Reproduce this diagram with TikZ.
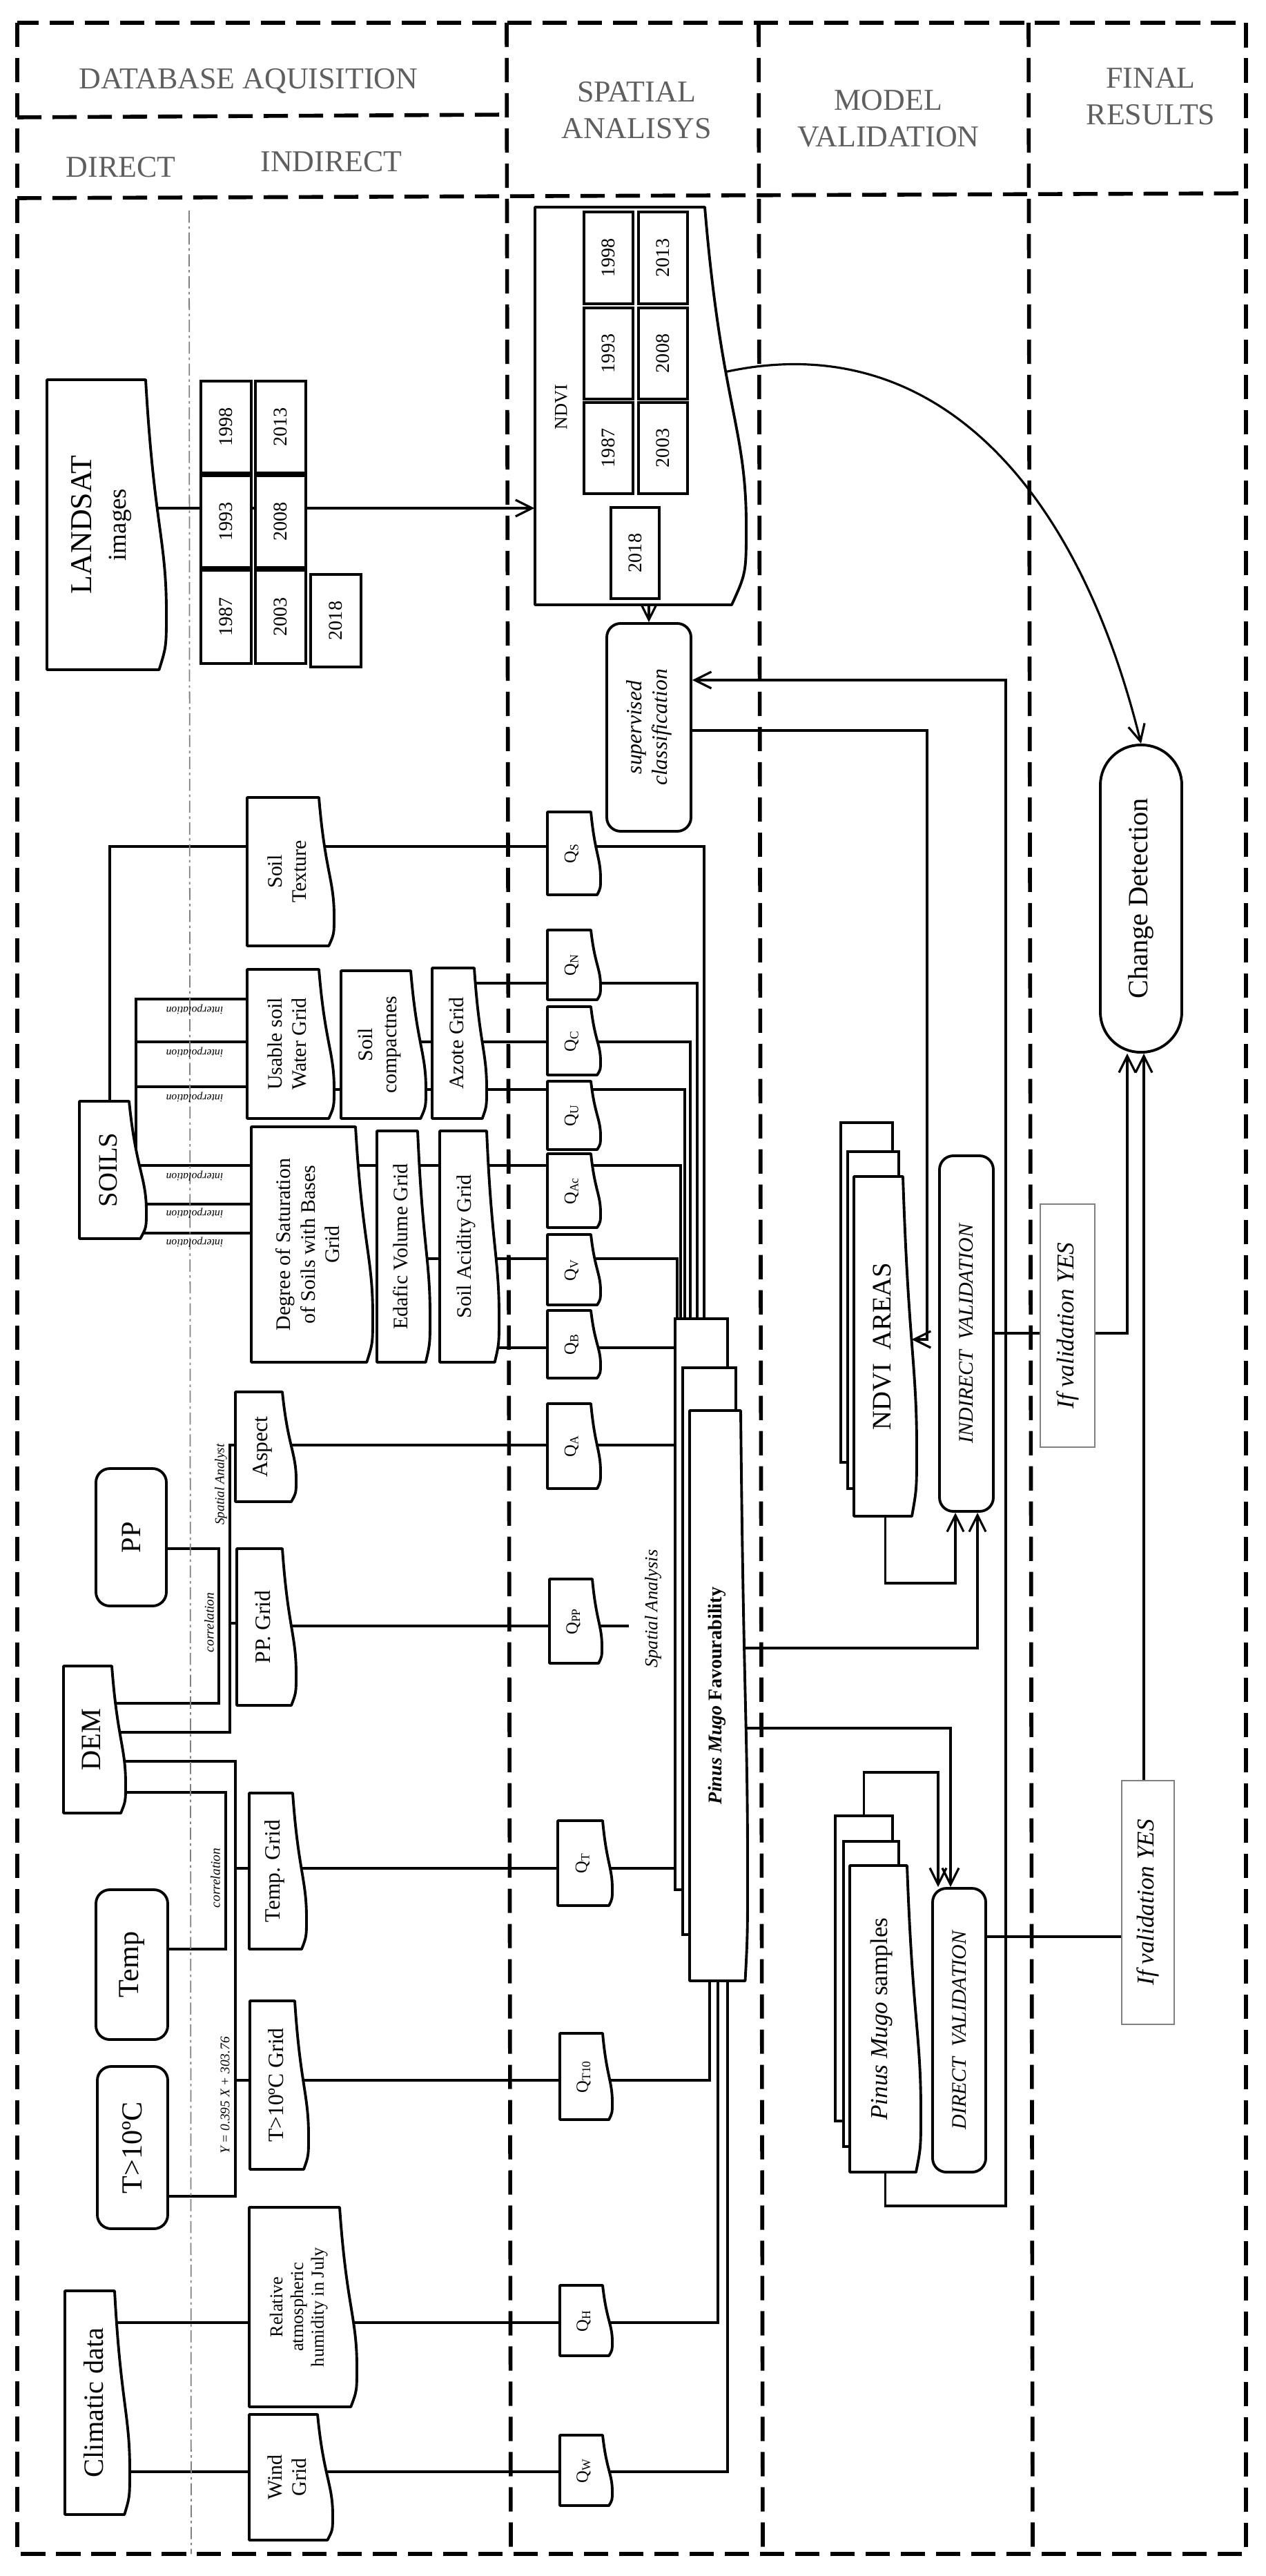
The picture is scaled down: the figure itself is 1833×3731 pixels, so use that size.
\documentclass[tikz,border=0pt]{standalone}
\usepackage{fontspec}
\setmainfont{Liberation Serif}
\usetikzlibrary{fit,calc,arrows.meta}
\pgfdeclarelayer{background}
\pgfsetlayers{background,main}
\newcommand\fsz[2]{\fontsize{#1}{#2}\selectfont}
\newcommand\docbox[8][20]{%
 \node[inner sep=0pt,fit={(#3,#4)(#5,#6)}] (#2) {};
 \draw[docline] (#3,#4) -- ({#5-#1},#4) .. controls ({#5-0.6*#1},{#4+0.5*(#6-#4)}) and (#5,{#4+0.55*(#6-#4)}) .. (#5,{#4+0.8*(#6-#4)}) .. controls (#5,{#4+0.92*(#6-#4)}) .. ({#5-0.35*#1},#6) -- (#3,#6) -- cycle;
 \node[rotate=90,align=center,font=#7] (#2-t) at ({(#3+#5)/2-0.25*#1},{(#4+#6)/2}) {#8};}
\newcommand\tbox[8]{%
 \node[#1,fit={(#3,#4)(#5,#6)}] (#2) {};
 \node[rotate=90,align=center,font=#7] (#2-t) at (#2) {#8};}
\definecolor{hdrgray}{RGB}{95,95,95}
\begin{document}
\begin{tikzpicture}[x=0.01cm,y=-0.01cm,
  docline/.style={line width=1.1pt,fill=white,line join=round},
  box/.style={draw,line width=1.1pt,fill=white,inner sep=0pt},
  rbox/.style={box,rounded corners=2mm},
  ybox/.style={box,line width=1pt},
  gbox/.style={draw=gray,line width=0.7pt,fill=white,inner sep=0pt},
  frame/.style={line width=1.6pt,dash pattern=on 10pt off 4.5pt},
  hdr/.style={text=hdrgray,font=\fsz{12.5}{15},align=center},
  lin/.style={line width=0.9pt},
  arr/.style={lin,-{Straight Barb[length=2.4mm,width=2.4mm]}},
  tiny/.style={font=\itshape\fsz{4.5}{5}},
  small/.style={rotate=90,font=\itshape\fsz{5.5}{6}}]
\useasboundingbox (0,0) rectangle (1833,3731);
% frame
\draw[frame] (25,33) rectangle (1805,3699);
\draw[frame] (734,33) -- (740,3699);
\draw[frame] (1099,33) -- (1105,3699);
\draw[frame] (1490,33) -- (1496,3699);
\draw[frame] (25,170) -- (734,166);
\draw[frame] (25,287) -- (1805,280);
\draw[gray,line width=0.5pt,dash pattern=on 5pt off 1.5pt on 1pt off 1.5pt] (274,305) -- (277,3699);
% headers
\node[hdr] (hdb) at (360,118) {DATABASE AQUISITION};
\node[hdr] (hdir) at (175,242) {DIRECT};
\node[hdr] (hind) at (480,234) {INDIRECT};
\node[hdr] (hsp) at (922,160) {SPATIAL\\ANALISYS};
\node[hdr] (hmv) at (1287,172) {MODEL\\VALIDATION};
\node[hdr] (hfr) at (1667,140) {FINAL\\RESULTS};
% LANDSAT
\docbox[30]{landsat}{68}{550}{241}{970}{\fsz{12.5}{14}}{LANDSAT\\{\fsz{10.5}{12}images}}
\tbox{ybox}{l1998}{291}{552}{364}{685}{\fsz{8}{9}}{1998}
\tbox{ybox}{l2013}{370}{552}{443}{685}{\fsz{8}{9}}{2013}
\tbox{ybox}{l1993}{291}{689}{364}{822}{\fsz{8}{9}}{1993}
\tbox{ybox}{l2008}{370}{689}{443}{822}{\fsz{8}{9}}{2008}
\tbox{ybox}{l1987}{291}{826}{364}{961}{\fsz{8}{9}}{1987}
\tbox{ybox}{l2003}{370}{826}{443}{961}{\fsz{8}{9}}{2003}
\tbox{ybox}{l2018}{450}{832}{523}{966}{\fsz{8}{9}}{2018}
% NDVI
\docbox[60]{ndvi}{775}{300}{1081}{876}{\fsz{7}{8}}{}
\node[rotate=90,font=\fsz{7.5}{8}] (ndvilbl) at (813,590) {NDVI};
\tbox{ybox}{n1998}{846}{307}{917}{440}{\fsz{8}{9}}{1998}
\tbox{ybox}{n2013}{925}{307}{996}{440}{\fsz{8}{9}}{2013}
\tbox{ybox}{n1993}{846}{446}{917}{578}{\fsz{8}{9}}{1993}
\tbox{ybox}{n2008}{925}{446}{996}{578}{\fsz{8}{9}}{2008}
\tbox{ybox}{n1987}{846}{583}{917}{715}{\fsz{8}{9}}{1987}
\tbox{ybox}{n2003}{925}{583}{996}{715}{\fsz{8}{9}}{2003}
\tbox{ybox}{n2018}{885}{735}{955}{867}{\fsz{8}{9}}{2018}
\tbox{rbox}{sup}{879}{903}{1001}{1204}{\itshape\fsz{9}{10.5}}{supervised\\classification}
\tbox{box,rounded corners=5.8mm}{cd}{1594}{1079}{1712}{1524}{\fsz{11.5}{13}}{Change Detection}
% soils
\docbox[22]{stex}{358}{1155}{484}{1370}{\fsz{8.5}{10}}{Soil\\Texture}
\docbox[25]{soils}{115}{1595}{212}{1794}{\fsz{11}{12}}{SOILS}
\docbox[22]{usw}{358}{1404}{484}{1620}{\fsz{8.5}{10}}{Usable soil\\Water Grid}
\docbox[22]{scomp}{494}{1406}{617}{1620}{\fsz{8.5}{10}}{Soil\\compactnes}
\docbox[18]{azote}{626}{1402}{705}{1620}{\fsz{8.5}{10}}{Azote Grid}
\docbox[25]{deg}{364}{1632}{540}{1973}{\fsz{8.5}{10}}{Degree of Saturation\\of Soils with Bases\\Grid}
\docbox[18]{edaf}{546}{1638}{623}{1973}{\fsz{8.5}{10}}{Edafic Volume Grid}
\docbox[18]{acid}{637}{1638}{723}{1973}{\fsz{8.5}{10}}{Soil Acidity Grid}
% Q boxes
\docbox[14]{qs}{793}{1176}{870}{1296}{\fsz{7}{8}}{Q\textsubscript{S}}
\docbox[14]{qn}{793}{1347}{870}{1448}{\fsz{7}{8}}{Q\textsubscript{N}}
\docbox[14]{qc}{793}{1458}{870}{1557}{\fsz{7}{8}}{Q\textsubscript{C}}
\docbox[14]{qu}{793}{1566}{870}{1665}{\fsz{7}{8}}{Q\textsubscript{U}}
\docbox[14]{qac}{793}{1671}{870}{1778}{\fsz{7}{8}}{Q\textsubscript{Ac}}
\docbox[14]{qv}{793}{1788}{870}{1890}{\fsz{7}{8}}{Q\textsubscript{V}}
\docbox[14]{qb}{793}{1898}{870}{1996}{\fsz{7}{8}}{Q\textsubscript{B}}
\docbox[14]{qa}{793}{2033}{870}{2156}{\fsz{7}{8}}{Q\textsubscript{A}}
\docbox[14]{qpp}{796}{2287}{872}{2409}{\fsz{7}{8}}{Q\textsubscript{PP}}
\docbox[14]{qt}{808}{2637}{887}{2760}{\fsz{7}{8}}{Q\textsubscript{T}}
\docbox[14]{qt10}{811}{2945}{887}{3070}{\fsz{7}{8}}{Q\textsubscript{T10}}
\docbox[14]{qh}{811}{3310}{887}{3412}{\fsz{7}{8}}{Q\textsubscript{H}}
\docbox[14]{qw}{811}{3527}{887}{3629}{\fsz{7}{8}}{Q\textsubscript{W}}
% DEM etc
\docbox[20]{aspect}{341}{2016}{429}{2175}{\fsz{9}{10}}{Aspect}
\docbox[20]{ppg}{343}{2243}{429}{2470}{\fsz{9}{10}}{PP. Grid}
\tbox{rbox}{pp}{139}{2127}{241}{2326}{\fsz{11.5}{13}}{PP}
\docbox[20]{dem}{92}{2413}{182}{2626}{\fsz{11.5}{13}}{DEM}
\tbox{rbox}{temp}{139}{2737}{243}{2954}{\fsz{12}{13}}{Temp}
\tbox{rbox}{t10}{141}{2993}{243}{3228}{\fsz{12}{13}}{T>10ºC}
\docbox[22]{clim}{94}{3318}{188}{3642}{\fsz{11.5}{13}}{Climatic data}
\docbox[20]{tgrid}{361}{2597}{444}{2823}{\fsz{9}{10}}{Temp. Grid}
\docbox[20]{t10grid}{362}{2898}{447}{3142}{\fsz{9}{10}}{T>10ºC Grid}
\docbox[25]{rh}{361}{3197}{517}{3486}{\fsz{7.5}{8.5}}{Relative\\atmospheric\\humidity in July}
\docbox[22]{wind}{361}{3497}{482}{3679}{\fsz{8.5}{10}}{Wind\\Grid}
% favourability
\node[box,fit={(978,1910)(1054,2737)}] (fav1) {};
\node[box,fit={(989,1981)(1066,2802)}] (fav2) {};
\docbox[10]{fav3}{999}{2043}{1083}{2869}{\fsz{8}{9}}{\textbf{\textit{Pinus Mugo}} \textbf{Favourability}}
\node[small,font=\itshape\fsz{7.5}{8}] (salbl) at (946,2330) {Spatial Analysis};
% model validation
\node[box,fit={(1218,1626)(1293,2118)}] (na1) {};
\node[box,fit={(1228,1668)(1302,2156)}] (na2) {};
\docbox[20]{na3}{1237}{1704}{1328}{2196}{\fsz{11}{12}}{NDVI\ \ AREAS}
\tbox{rbox}{iv}{1361}{1674}{1439}{2189}{\itshape\fsz{8.5}{10}}{INDIRECT\ \ VALIDATION}
\tbox{gbox}{ify1}{1507}{1744}{1586}{2096}{\itshape\fsz{10}{11}}{If validation YES}
\node[box,fit={(1210,2630)(1293,3072)}] (ps1) {};
\node[box,fit={(1222,2667)(1302,3109)}] (ps2) {};
\docbox[20]{ps3}{1231}{2702}{1334}{3146}{\fsz{10}{11}}{\textit{Pinus Mugo} samples}
\tbox{rbox}{dv}{1351}{2735}{1428}{3146}{\itshape\fsz{8.5}{10}}{DIRECT\ \ VALIDATION}
\tbox{gbox}{ify2}{1625}{2579}{1701}{2932}{\itshape\fsz{10}{11}}{If validation YES}
% labels
\foreach \yy/\nm in {1462/i1,1524/i2,1589/i3,1703/i4,1757/i5,1799/i6}
  \node[tiny,rotate=180] (lab\nm) at (282,\yy) {interpolation};
\node[small] (corr1) at (303,2350) {correlation};
\node[small] (sanl) at (320,2150) {Spatial Analyst};
\node[small] (corr2) at (312,2720) {correlation};
\node[small] (yeq) at (326,3035) {Y = 0.395 X + 303.76};
% connectors
\begin{pgfonlayer}{background}
\draw[arr] (landsat.center |- 0,736) -- (ndvi.west |- 0,736);
\draw[arr] (sup.north |- ndvi.south) -- (sup.north);
\draw[arr] (ndvi.center |- 0,540) -- (1045,540) .. controls (1350,470) and (1560,700) .. (cd.north);
\draw[arr] (ps3.center) -- (ps3.center |- 0,3195) -- (1457,3195) -- (1457,985) -- (sup.east |- 0,985);
\draw[arr] (sup.center |- 0,1058) -- (1343,1058) -- (1343,1940) -- ($(na3.east |- 0,1940)+(-8,0)$);
\draw[arr] (na3.center) -- (na3.center |- 0,2293) -- (1384,2293) -- (iv.south -| 1384,0);
\draw[arr] (fav3.center |- 0,2387) -- (1416,2387) -- (iv.south -| 1416,0);
\draw[arr] (fav3.center |- 0,2503) -- (1377,2503) -- (dv.north -| 1377,0);
\draw[arr] (ps1.center) -- (ps1.north |- 0,2567) -- (1359,2567) -- (dv.north -| 1359,0);
\draw[lin] (iv.center |- 0,1931) -- (ify1.west |- 0,1931);
\draw[arr] (ify1.center |- 0,1931) -- (1633,1931) -- (cd.south -| 1633,0);
\draw[lin] (dv.center |- 0,2805) -- (ify2.west |- 0,2805);
\draw[arr] (ify2.center -| 1657,0) -- (cd.south -| 1657,0);
% soils
\draw[lin] (soils.center -| 159,0) -- (159,1226) -- (stex.center |- 0,1226) -- (1020,1226) -- (fav1.north -| 1020,0);
\draw[lin] (soils.center -| 197,0) -- (197,1447) -- (usw.center |- 0,1447);
\draw[lin] (197,1509) -- (usw.center |- 0,1509);
\draw[lin] (197,1574) -- (usw.center |- 0,1574);
\draw[lin] (soils.center |- 0,1688) -- (deg.center |- 0,1688);
\draw[lin] (soils.center |- 0,1744) -- (deg.center |- 0,1744);
\draw[lin] (soils.center |- 0,1786) -- (deg.center |- 0,1786);
\draw[lin] (azote.center |- 0,1424) -- (1010,1424) -- (fav1.north -| 1010,0);
\draw[lin] (scomp.center |- 0,1509) -- (1000,1509) -- (fav1.north -| 1000,0);
\draw[lin] (usw.center |- 0,1578) -- (992,1578) -- (fav1.north -| 992,0);
\draw[lin] (deg.center |- 0,1688) -- (986,1688) -- (fav1.north -| 986,0);
\draw[lin] (edaf.center |- 0,1823) -- (981,1823) -- (fav1.north -| 981,0);
\draw[lin] (acid.center |- 0,1952) -- (fav1.west |- 0,1952);
% DEM / PP
\draw[lin] (aspect.center |- 0,2093) -- (fav1.west |- 0,2093);
\draw[lin] (ppg.center |- 0,2355) -- (911,2355);
\draw[lin] (pp.center |- 0,2243) -- (317,2243) -- (317,2467) -- (dem.center |- 0,2467);
\draw[lin] (dem.center |- 0,2509) -- (333,2509) -- (333,2093) -- (aspect.center |- 0,2093);
\draw[lin] (333,2351) -- (ppg.center |- 0,2351);
\draw[lin] (dem.center |- 0,2596) -- (327,2596) -- (327,2823) -- (temp.center |- 0,2823);
\draw[lin] (dem.center |- 0,2551) -- (341,2551) -- (341,3181) -- (t10.center |- 0,3181);
\draw[lin] (341,2706) -- (tgrid.center |- 0,2706) -- (fav1.west |- 0,2706);
\draw[lin] (341,3013) -- (t10grid.center |- 0,3013) -- (1028,3013) -- (fav3.south -| 1028,0);
\draw[lin] (clim.center |- 0,3364) -- (1040,3364) -- (fav3.south -| 1040,0);
\draw[lin] (clim.center |- 0,3580) -- (1054,3580) -- (fav3.south -| 1054,0);
\end{pgfonlayer}
\end{tikzpicture}
\end{document}
